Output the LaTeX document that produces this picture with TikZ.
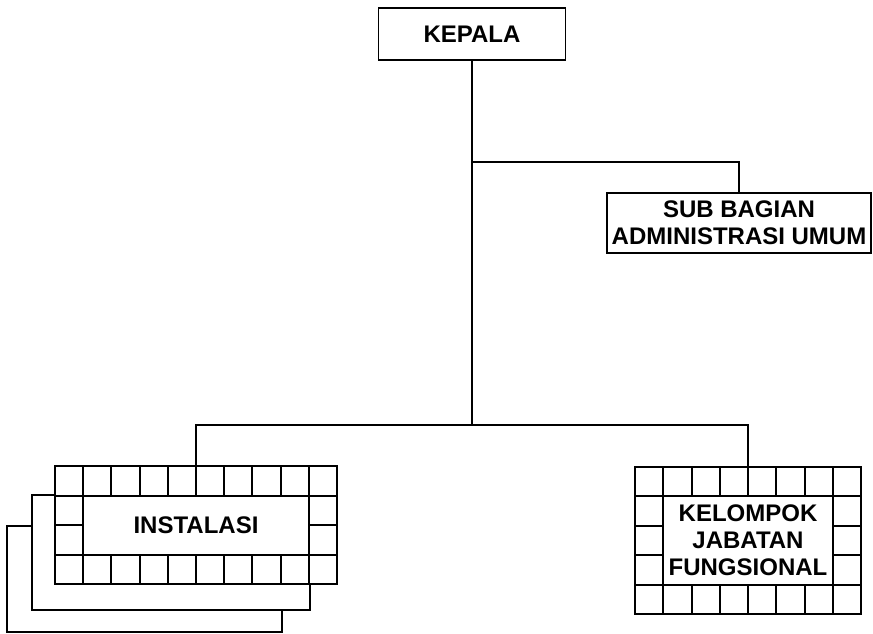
\documentclass[tikz,border=0pt]{standalone}
\usepackage{fontspec}
\setmainfont{Liberation Sans}
\begin{document}
\begin{tikzpicture}[x=1pt,y=-1pt,
    unit/.style={draw, line width=1.6pt, fill=white, inner sep=0pt, align=center,
      font=\fontsize{24}{27}\selectfont\bfseries},
    cell/.style={line width=2pt},
    link/.style={line width=1.4pt}]
    \useasboundingbox (0,0) rectangle (873,633);
    \node (kepala) [unit, minimum width=187pt, minimum height=52pt] at (472,34) {KEPALA};
    \node (subbag) [unit, minimum width=264pt, minimum height=60pt] at (739,223) {SUB BAGIAN\\ADMINISTRASI UMUM};

    % tumpukan instalasi
    \draw[cell, fill=white] (7,526) rectangle (282,632);
    \draw[cell, fill=white] (32,495) rectangle (310,610);
    \node (instalasi) [unit, line width=2pt, minimum width=282pt, minimum height=118pt] at (196,525) {INSTALASI};
    \foreach \c in {0,...,9} {
        \draw[cell] (55+\c*28.2,466) rectangle ++(28.2,29.5);
        \draw[cell] (55+\c*28.2,554.5) rectangle ++(28.2,29.5);
    }
    \foreach \r in {1,2} {
        \draw[cell] (55,466+\r*29.5) rectangle ++(28.2,29.5);
        \draw[cell] (308.8,466+\r*29.5) rectangle ++(28.2,29.5);
    }

    % kelompok jabatan fungsional
    \node (kelompok) [unit, line width=2pt, minimum width=226pt, minimum height=147pt] at (748,540.5) {KELOMPOK\\JABATAN\\FUNGSIONAL};
    \foreach \c in {0,...,7} {
        \draw[cell] (635+\c*28.25,467) rectangle ++(28.25,29.4);
        \draw[cell] (635+\c*28.25,584.6) rectangle ++(28.25,29.4);
    }
    \foreach \r in {1,2,3} {
        \draw[cell] (635,467+\r*29.4) rectangle ++(28.25,29.4);
        \draw[cell] (832.75,467+\r*29.4) rectangle ++(28.25,29.4);
    }

    % garis
    \coordinate (cabang) at (472,162);
    \coordinate (bus) at (472,425);
    \draw[link] (kepala) -- (bus);
    \draw[link] (cabang) -| (subbag.north);
    \draw[link] (instalasi.north) |- (bus) -| (kelompok.north);
\end{tikzpicture}
\end{document}
